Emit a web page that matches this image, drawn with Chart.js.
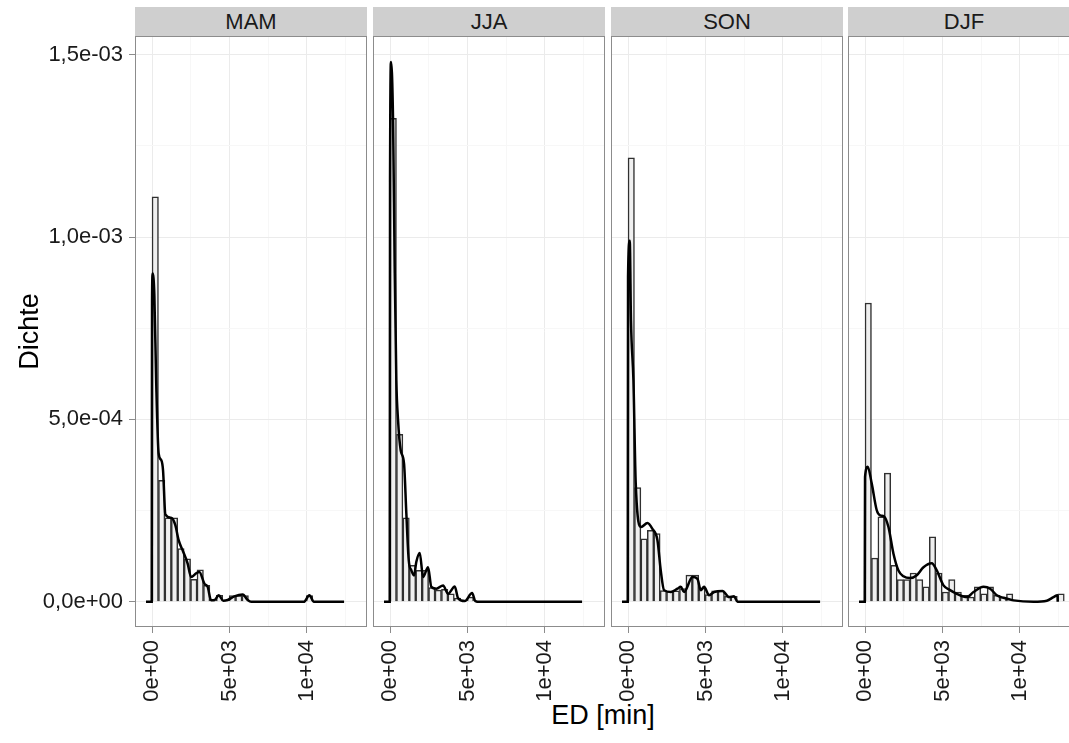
<!DOCTYPE html>
<html>
<head>
<meta charset="utf-8">
<script src="https://cdn.jsdelivr.net/npm/chart.js@4.4.1/dist/chart.umd.min.js"></script>
<style>
  html, body { margin: 0; padding: 0; background: #fff; overflow: hidden; }
  #wrap { position: relative; width: 1069px; height: 743px; overflow: hidden; font-family: "Liberation Sans", Arial, sans-serif; }
  #wrap canvas { position: absolute; top: 0; }
  .strip { position: absolute; top: 7px; height: 29px; width: 232px; background: #cfcfcf; color: #1a1a1a;
           font-size: 22px; line-height: 29px; text-align: center; }
  #xtitle { position: absolute; left: 453px; width: 300px; top: 700px; text-align: center; font-size: 27px; color: #000; }
</style>
</head>
<body>
<div id="wrap">
  <div id="xtitle">ED [min]</div>
</div>
<script>
// facets
const seasons = ['MAM', 'JJA', 'SON', 'DJF'];

// histogram bin midpoints (binwidth 415 min)
const binMids = [207.5, 622.5, 1037.5, 1452.5, 1867.5, 2282.5, 2697.5, 3112.5, 3527.5, 3942.5,
  4357.5, 4772.5, 5187.5, 5602.5, 6017.5, 6432.5, 6847.5, 7262.5, 7677.5, 8092.5,
  8507.5, 8922.5, 9337.5, 9752.5, 10167.5, 10582.5, 10997.5, 11412.5, 11827.5, 12242.5,
  12657.5, 13072.5];

// histogram densities, in units of 1e-4
const histMAM = [11.1, 3.33, 2.3, 2.3, 1.46, 1.18, 0.62, 0.88, 0.45, 0, 0.18, 0, 0.17, 0.17, 0.17, 0,
  0, 0, 0, 0, 0, 0, 0, 0, 0.17, 0, 0, 0, 0, 0, 0, 0];
const histJJA = [13.25, 4.59, 2.3, 1.0, 0.86, 0.86, 0.39, 0.32, 0.34, 0.22, 0.1, 0, 0.13, 0, 0, 0,
  0, 0, 0, 0, 0, 0, 0, 0, 0, 0, 0, 0, 0, 0, 0, 0];
const histSON = [12.17, 3.13, 1.73, 1.96, 1.87, 0.31, 0.28, 0.3, 0.36, 0.73, 0.73, 0.38, 0.2, 0.3, 0.3, 0.15,
  0.15, 0, 0, 0, 0, 0, 0, 0, 0, 0, 0, 0, 0, 0, 0, 0];
const histDJF = [8.19, 1.2, 2.33, 3.53, 1.0, 0.61, 0.61, 0.79, 0.61, 0.41, 1.78, 0.79, 0.27, 0.61, 0.27, 0.18,
  0.13, 0.41, 0.22, 0.41, 0.18, 0.13, 0.22, 0, 0, 0, 0, 0, 0, 0, 0.22, 0];

// kernel density curves (x in min, y in units of 1e-4)
const densMAMx = [-390, -20, 0, 40, 150, 270, 426, 601, 711, 860, 1266, 1505, 1718, 1977, 2300, 2519, 2842, 3056,
  3379, 3592, 3811, 4050, 4302, 4600, 4884, 5317, 5853, 6176, 6400, 9800, 10160, 10450, 12400];
const densMAMy = [0, 0, 8.2, 9.0, 8.4, 6.0, 4.07, 3.88, 3.6, 2.4, 2.3, 2.1, 1.69, 1.41, 1.05, 0.68, 0.78, 0.82,
  0.5, 0.41, 0.04, 0.05, 0.18, 0.03, 0.05, 0.15, 0.2, 0.05, 0, 0, 0.18, 0, 0];
const densJJAx = [-390, -20, 0, 65, 195, 300, 407, 517, 691, 904, 1053, 1208, 1376, 1550, 1699, 1919, 2132, 2455,
  2668, 2991, 3424, 3747, 4180, 4393, 4826, 5297, 5510, 5800, 12400];
const densJJAy = [0, 0, 11.5, 14.8, 13.2, 9.2, 6.07, 4.98, 4.15, 3.79, 2.42, 1.14, 0.86, 0.72, 1.1, 1.34, 0.68, 0.95,
  0.41, 0.36, 0.45, 0.22, 0.42, 0.1, 0.02, 0.24, 0.02, 0, 0];
const densSONx = [-390, -20, 0, 110, 190, 349, 497, 840, 1253, 1576, 1899, 2112, 2326, 2758, 3191, 3404, 3618, 4160,
  4483, 4696, 4910, 5233, 5556, 6098, 6525, 6848, 7067, 12400];
const densSONy = [0, 0, 8.9, 9.9, 7.7, 6.07, 3.24, 2.05, 2.16, 2.0, 1.69, 0.86, 0.32, 0.27, 0.36, 0.41, 0.27, 0.68,
  0.63, 0.32, 0.41, 0.18, 0.27, 0.3, 0.13, 0.15, 0, 0];
const densDJFx = [-390, -20, 0, 174, 433, 756, 969, 1227, 1512, 1835, 2158, 2481, 2907, 3340, 3773, 4309, 4632, 5065,
  5491, 5924, 6570, 7003, 7649, 8075, 8508, 8941, 9587, 10879, 11738, 12171, 12429, 12440];
const densDJFy = [0, 0, 3.42, 3.7, 3.24, 2.51, 2.37, 2.34, 2.05, 1.32, 0.86, 0.7, 0.65, 0.73, 0.95, 1.06, 0.86, 0.45,
  0.32, 0.22, 0.13, 0.27, 0.41, 0.36, 0.18, 0.11, 0.04, 0, 0.03, 0.13, 0.18, 0];

// axis ticks
const xMajorTicks = [0, 5000, 10000];
const xTickLabels = ['0e+00', '5e+03', '1e+04'];
const xMinorTicks = [2500, 7500, 12500];
const yMajorTicks = [0, 5, 10, 15];
const yTickLabels = ['0,0e+00', '5,0e-04', '1,0e-03', '1,5e-03'];
const yMinorTicks = [2.5, 7.5, 12.5];

const hists = [histMAM, histJJA, histSON, histDJF];
const densX = [densMAMx, densJJAx, densSONx, densDJFx];
const densY = [densMAMy, densJJAy, densSONy, densDJFy];

Chart.defaults.font.family = '"Liberation Sans", Arial, sans-serif';

const panelLeft = [135, 373, 611, 848];
const panelW = 232;
const yAxisW = 135;

const panelBorder = {
  id: 'panelBorder',
  afterDatasetsDraw(chart) {
    const { ctx, chartArea: a } = chart;
    ctx.save();
    ctx.strokeStyle = '#8c8c8c';
    ctx.lineWidth = 1;
    ctx.strokeRect(a.left + 0.5, a.top + 0.5, a.right - a.left - 1, a.bottom - a.top - 1);
    ctx.restore();
  }
};

const isMajor = (list, v) => list.includes(v);
const wrap = document.getElementById('wrap');

seasons.forEach((name, i) => {
  const first = i === 0;
  const cv = document.createElement('canvas');
  const w = first ? yAxisW + panelW : panelW;
  cv.width = w;
  cv.height = 743;
  cv.style.left = (first ? 0 : panelLeft[i]) + 'px';
  cv.style.width = w + 'px';
  cv.style.height = '743px';
  wrap.appendChild(cv);

  const strip = document.createElement('div');
  strip.className = 'strip';
  strip.style.left = panelLeft[i] + 'px';
  strip.textContent = name;
  wrap.appendChild(strip);

  new Chart(cv, {
    type: 'bar',
    data: {
      datasets: [
        {
          type: 'line',
          order: 0,
          data: densX[i].map((x, j) => ({ x, y: densY[i][j] })),
          borderColor: '#000',
          borderWidth: 2.5,
          pointRadius: 0,
          cubicInterpolationMode: 'monotone',
          fill: false
        },
        {
          type: 'bar',
          order: 1,
          data: binMids.map((x, j) => ({ x, y: hists[i][j] })),
          backgroundColor: '#efefef',
          borderColor: '#303030',
          borderWidth: 1.5,
          barPercentage: 1,
          categoryPercentage: 1
        }
      ]
    },
    options: {
      responsive: false,
      animation: false,
      devicePixelRatio: 1,
      layout: { padding: { top: 36, left: 0, right: 0, bottom: 0 } },
      plugins: { legend: { display: false }, tooltip: { enabled: false } },
      scales: {
        x: {
          type: 'linear',
          min: -1100,
          max: 13880,
          offset: false,
          afterBuildTicks: (s) => { s.ticks = [...xMajorTicks, ...xMinorTicks].sort((a, b) => a - b).map(v => ({ value: v })); },
          afterFit: (s) => { s.height = 116; s.paddingLeft = 0; s.paddingRight = 0; },
          grid: {
            offset: false,
            color: (c) => isMajor(xMajorTicks, c.tick?.value) ? '#ebebeb' : '#f7f7f7',
            tickColor: (c) => isMajor(xMajorTicks, c.tick?.value) ? '#8c8c8c' : 'rgba(0,0,0,0)',
            tickLength: 6,
            lineWidth: 1
          },
          border: { display: false },
          ticks: {
            autoSkip: false,
            minRotation: 90,
            maxRotation: 90,
            padding: 7,
            color: '#1a1a1a',
            font: { size: 22 },
            callback: (v) => { const k = xMajorTicks.indexOf(v); return k >= 0 ? xTickLabels[k] : ''; }
          }
        },
        y: {
          type: 'linear',
          min: -0.69,
          max: 15.51,
          afterBuildTicks: (s) => { s.ticks = [...yMajorTicks, ...yMinorTicks].sort((a, b) => a - b).map(v => ({ value: v })); },
          afterFit: (s) => { s.width = first ? yAxisW : 0; s.paddingTop = 0; s.paddingBottom = 0; },
          grid: {
            color: (c) => isMajor(yMajorTicks, c.tick?.value) ? '#ebebeb' : '#f7f7f7',
            tickColor: (c) => isMajor(yMajorTicks, c.tick?.value) ? '#8c8c8c' : 'rgba(0,0,0,0)',
            drawTicks: first,
            tickLength: 6,
            lineWidth: 1
          },
          border: { display: false },
          title: {
            display: first,
            text: 'Dichte',
            color: '#000',
            font: { size: 27 },
            padding: { top: 14, bottom: 0 }
          },
          ticks: {
            display: first,
            padding: 6,
            color: '#1a1a1a',
            font: { size: 22 },
            callback: (v) => { const k = yMajorTicks.indexOf(v); return k >= 0 ? yTickLabels[k] : ''; }
          }
        }
      }
    },
    plugins: [panelBorder]
  });
});
</script>
</body>
</html>
